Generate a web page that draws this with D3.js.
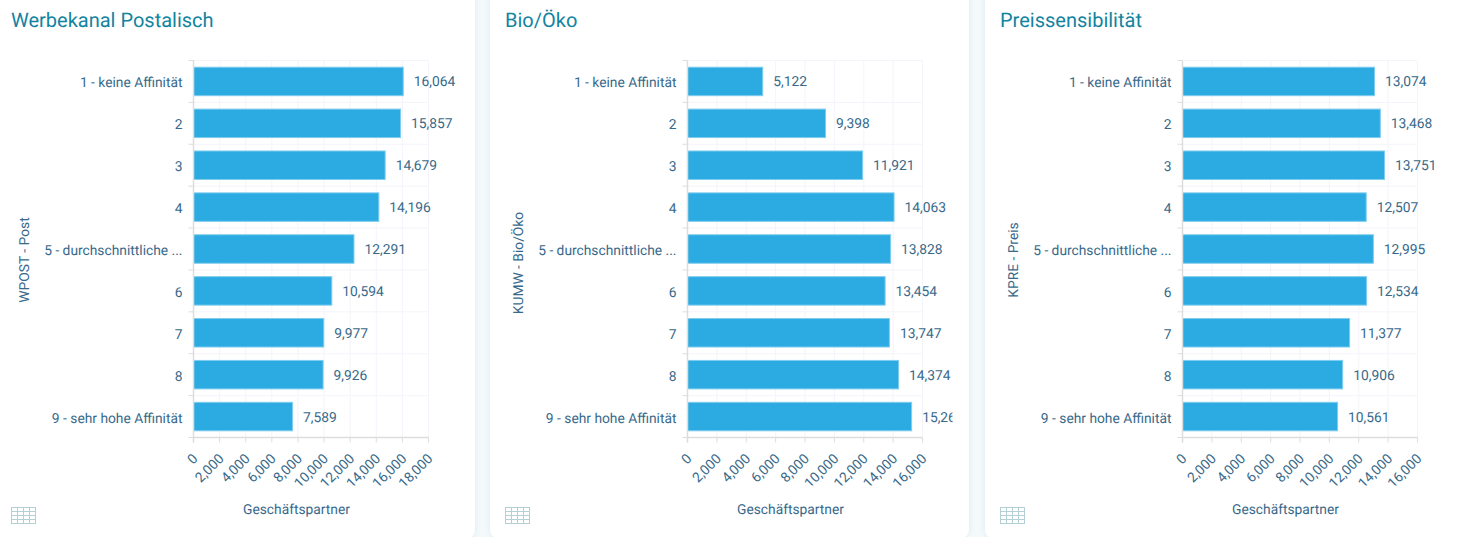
<!DOCTYPE html>
<html>
<head>
<meta charset="utf-8">
<script src="https://cdn.jsdelivr.net/npm/d3@7"></script>
<style>
  html, body { margin: 0; padding: 0; background: #f4f9fb; overflow: hidden; }
  svg { display: block; font-family: Roboto, sans-serif; text-rendering: geometricPrecision; }
  text { fill: #38698a; }
</style>
</head>
<body>
<svg id="chart" width="1462" height="537"></svg>
<script>
const categories = ["1 - keine Affinität", "2", "3", "4", "5 - durchschnittliche ...", "6", "7", "8", "9 - sehr hohe Affinität"];

const titles = ["Werbekanal Postalisch", "Bio/Öko", "Preissensibilität"];
const yTitles = ["WPOST - Post", "KUMW - Bio/Öko", "KPRE - Preis"];
const xTitle = "Geschäftspartner";

const postValues = [16064, 15857, 14679, 14196, 12291, 10594, 9977, 9926, 7589];
const bioValues = [5122, 9398, 11921, 14063, 13828, 13454, 13747, 14374, 15261];
const preisValues = [13074, 13468, 13751, 12507, 12995, 12534, 11377, 10906, 10561];

const seriesValues = [postValues, bioValues, preisValues];
const axisMax = [18000, 16000, 16000];

// card left/right edges and where the plot starts in each card
const cards = [[-10, 475], [490, 969], [985, 1480]];
const plotLeft = [193.5, 687.5, 1182.5];
const plotWidth = 235;
const plotTop = 60.5, plotBottom = 437.5;

const svg = d3.select("#chart");
const defs = svg.append("defs");

const shadow = defs.append("filter").attr("id", "cardShadow")
    .attr("x", "-5%").attr("width", "110%");
shadow.append("feDropShadow").attr("dx", 0).attr("dy", 0)
    .attr("stdDeviation", 3).attr("flood-color", "#d5e7ef").attr("flood-opacity", 0.8);

function drawPanel(i) {
    let values = seriesValues[i];
    let left = plotLeft[i];
    let card = cards[i];

    svg.append("rect")
        .attr("x", card[0]).attr("y", -12)
        .attr("width", card[1] - card[0]).attr("height", 550)
        .attr("rx", 8)
        .attr("fill", "#fff")
        .attr("filter", "url(#cardShadow)");

    svg.append("text")
        .attr("x", card[0] < 0 ? 11 : card[0] + 15)
        .attr("y", 27)
        .attr("font-size", 20)
        .style("fill", "#12849f")
        .text(titles[i]);

    let x = d3.scaleLinear().domain([0, axisMax[i]]).range([left, left + plotWidth]);
    let y = d3.scaleBand().domain(categories).range([plotTop, plotBottom]).paddingInner(0.32).paddingOuter(0.16);

    // labels run past the plot and get cut off like in the original widget
    let clipId = "clip" + i;
    defs.append("clipPath").attr("id", clipId).append("rect")
        .attr("x", left - 200).attr("y", 0).attr("width", 465).attr("height", 485.5);
    let g = svg.append("g").attr("clip-path", `url(#${clipId})`);

    // grid
    let ticks = d3.range(0, axisMax[i] + 1, 2000);
    g.append("g").selectAll("line").data(ticks).join("line")
        .attr("x1", d => x(d)).attr("x2", d => x(d))
        .attr("y1", plotTop).attr("y2", plotBottom)
        .attr("stroke", "#f4f4fb");
    let rows = d3.range(0, categories.length + 1);
    g.append("g").selectAll("line").data(rows).join("line")
        .attr("x1", left).attr("x2", left + plotWidth)
        .attr("y1", d => plotTop + d * (plotBottom - plotTop) / categories.length)
        .attr("y2", d => plotTop + d * (plotBottom - plotTop) / categories.length)
        .attr("stroke", "#f4f4fb");

    // bars
    g.append("g").selectAll("rect").data(values).join("rect")
        .attr("x", x(0))
        .attr("y", (d, k) => y(categories[k]))
        .attr("width", d => x(d) - x(0))
        .attr("height", y.bandwidth())
        .attr("fill", "#2babe2")
        .attr("stroke", "#7fcdee")
        .attr("stroke-width", 1);

    // value labels
    g.append("g").selectAll("text").data(values).join("text")
        .attr("x", d => x(d) + 10.5)
        .attr("y", (d, k) => y(categories[k]) + y.bandwidth() / 2 + 5)
        .attr("font-size", 13.8)
        .text(d => d3.format(",")(d));

    // y axis
    let yAxis = g.append("g").attr("transform", `translate(${left},0)`);
    yAxis.append("line").attr("y1", plotTop).attr("y2", plotBottom + 5).attr("stroke", "#dddddd").attr("stroke-width", 1.5);
    yAxis.selectAll("line.tick").data(rows).join("line").attr("class", "tick")
        .attr("x1", -5).attr("x2", 0)
        .attr("y1", d => plotTop + d * (plotBottom - plotTop) / categories.length)
        .attr("y2", d => plotTop + d * (plotBottom - plotTop) / categories.length)
        .attr("stroke", "#dddddd");
    yAxis.selectAll("text").data(categories).join("text")
        .attr("x", -11)
        .attr("y", d => y(d) + y.bandwidth() / 2 + 6)
        .attr("text-anchor", "end")
        .attr("font-size", 13.8)
        .text(d => d);

    // x axis
    let xAxis = g.append("g").attr("transform", `translate(0,${plotBottom})`);
    xAxis.append("line").attr("x1", left).attr("x2", left + plotWidth).attr("stroke", "#dddddd").attr("stroke-width", 1.5);
    xAxis.selectAll("line.tick").data(ticks).join("line").attr("class", "tick")
        .attr("x1", d => x(d)).attr("x2", d => x(d))
        .attr("y1", 0).attr("y2", 5)
        .attr("stroke", "#dddddd");
    xAxis.selectAll("text").data(ticks).join("text")
        .attr("transform", d => `translate(${x(d) + 5},${22}) rotate(-45)`)
        .attr("text-anchor", "end")
        .attr("font-size", 13.8)
        .text(d => d3.format(",")(d));

    // axis titles
    svg.append("text")
        .attr("x", left + plotWidth / 2 - 14.5)
        .attr("y", 514)
        .attr("text-anchor", "middle")
        .attr("font-size", 13.8)
        .text(xTitle);
    svg.append("text")
        .attr("transform", `translate(${left - 165},${[260, 263, 260][i]}) rotate(-90)`)
        .attr("text-anchor", "middle")
        .attr("font-size", 13.8)
        .text(yTitles[i]);

    // table icon
    let iconX = (card[0] < 0 ? 11 : card[0] + 15), iconY = 507;
    let icon = svg.append("g").attr("transform", `translate(${iconX},${iconY})`)
        .attr("stroke", "#b5cfd6").attr("fill", "none");
    icon.append("rect").attr("x", 0.5).attr("y", 0.5).attr("width", 24).attr("height", 16);
    d3.range(1, 4).forEach(k => icon.append("line").attr("y1", k * 4 + 0.5).attr("y2", k * 4 + 0.5).attr("x1", 0).attr("x2", 25));
    d3.range(1, 4).forEach(k => icon.append("line").attr("x1", k * 6 + 0.5).attr("x2", k * 6 + 0.5).attr("y1", 0).attr("y2", 17));
}

titles.forEach((t, i) => drawPanel(i));
</script>
</body>
</html>
